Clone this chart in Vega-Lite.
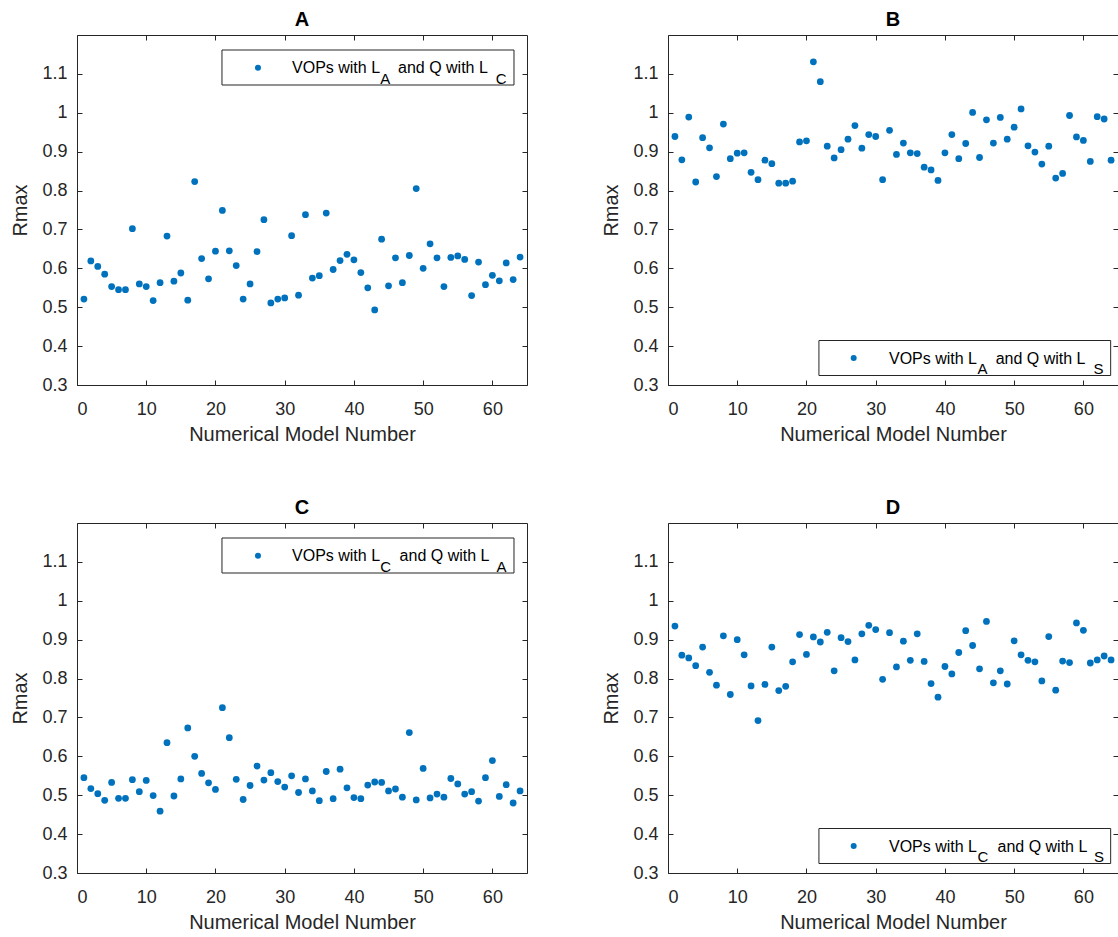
{
  "$schema": "https://vega.github.io/schema/vega-lite/v6.json",
  "background": "white",
  "padding": {"left": 10, "top": 9, "right": 0, "bottom": 0},
  "datasets": {
    "A": [{"n":1,"r":0.521},{"n":2,"r":0.619},{"n":3,"r":0.605},{"n":4,"r":0.585},{"n":5,"r":0.553},{"n":6,"r":0.545},{"n":7,"r":0.545},{"n":8,"r":0.702},{"n":9,"r":0.56},{"n":10,"r":0.553},{"n":11,"r":0.517},{"n":12,"r":0.563},{"n":13,"r":0.683},{"n":14,"r":0.567},{"n":15,"r":0.588},{"n":16,"r":0.518},{"n":17,"r":0.823},{"n":18,"r":0.625},{"n":19,"r":0.573},{"n":20,"r":0.644},{"n":21,"r":0.749},{"n":22,"r":0.645},{"n":23,"r":0.607},{"n":24,"r":0.521},{"n":25,"r":0.56},{"n":26,"r":0.643},{"n":27,"r":0.725},{"n":28,"r":0.511},{"n":29,"r":0.521},{"n":30,"r":0.524},{"n":31,"r":0.684},{"n":32,"r":0.531},{"n":33,"r":0.738},{"n":34,"r":0.575},{"n":35,"r":0.581},{"n":36,"r":0.742},{"n":37,"r":0.597},{"n":38,"r":0.62},{"n":39,"r":0.636},{"n":40,"r":0.622},{"n":41,"r":0.589},{"n":42,"r":0.55},{"n":43,"r":0.493},{"n":44,"r":0.675},{"n":45,"r":0.555},{"n":46,"r":0.627},{"n":47,"r":0.563},{"n":48,"r":0.633},{"n":49,"r":0.805},{"n":50,"r":0.6},{"n":51,"r":0.663},{"n":52,"r":0.627},{"n":53,"r":0.553},{"n":54,"r":0.628},{"n":55,"r":0.632},{"n":56,"r":0.623},{"n":57,"r":0.53},{"n":58,"r":0.616},{"n":59,"r":0.558},{"n":60,"r":0.582},{"n":61,"r":0.568},{"n":62,"r":0.614},{"n":63,"r":0.571},{"n":64,"r":0.629}],
    "B": [{"n":1,"r":0.939},{"n":2,"r":0.879},{"n":3,"r":0.989},{"n":4,"r":0.822},{"n":5,"r":0.936},{"n":6,"r":0.91},{"n":7,"r":0.836},{"n":8,"r":0.971},{"n":9,"r":0.882},{"n":10,"r":0.896},{"n":11,"r":0.897},{"n":12,"r":0.847},{"n":13,"r":0.828},{"n":14,"r":0.878},{"n":15,"r":0.869},{"n":16,"r":0.819},{"n":17,"r":0.819},{"n":18,"r":0.824},{"n":19,"r":0.925},{"n":20,"r":0.928},{"n":21,"r":1.131},{"n":22,"r":1.08},{"n":23,"r":0.914},{"n":24,"r":0.884},{"n":25,"r":0.905},{"n":26,"r":0.932},{"n":27,"r":0.967},{"n":28,"r":0.909},{"n":29,"r":0.944},{"n":30,"r":0.939},{"n":31,"r":0.828},{"n":32,"r":0.955},{"n":33,"r":0.893},{"n":34,"r":0.922},{"n":35,"r":0.897},{"n":36,"r":0.895},{"n":37,"r":0.86},{"n":38,"r":0.853},{"n":39,"r":0.826},{"n":40,"r":0.897},{"n":41,"r":0.944},{"n":42,"r":0.882},{"n":43,"r":0.921},{"n":44,"r":1.001},{"n":45,"r":0.885},{"n":46,"r":0.982},{"n":47,"r":0.922},{"n":48,"r":0.988},{"n":49,"r":0.932},{"n":50,"r":0.963},{"n":51,"r":1.01},{"n":52,"r":0.915},{"n":53,"r":0.899},{"n":54,"r":0.868},{"n":55,"r":0.914},{"n":56,"r":0.832},{"n":57,"r":0.844},{"n":58,"r":0.993},{"n":59,"r":0.938},{"n":60,"r":0.929},{"n":61,"r":0.875},{"n":62,"r":0.99},{"n":63,"r":0.984},{"n":64,"r":0.878}],
    "C": [{"n":1,"r":0.545},{"n":2,"r":0.517},{"n":3,"r":0.504},{"n":4,"r":0.487},{"n":5,"r":0.533},{"n":6,"r":0.492},{"n":7,"r":0.492},{"n":8,"r":0.54},{"n":9,"r":0.509},{"n":10,"r":0.538},{"n":11,"r":0.499},{"n":12,"r":0.459},{"n":13,"r":0.635},{"n":14,"r":0.498},{"n":15,"r":0.542},{"n":16,"r":0.673},{"n":17,"r":0.6},{"n":18,"r":0.556},{"n":19,"r":0.532},{"n":20,"r":0.515},{"n":21,"r":0.725},{"n":22,"r":0.648},{"n":23,"r":0.541},{"n":24,"r":0.489},{"n":25,"r":0.525},{"n":26,"r":0.575},{"n":27,"r":0.539},{"n":28,"r":0.558},{"n":29,"r":0.535},{"n":30,"r":0.521},{"n":31,"r":0.55},{"n":32,"r":0.507},{"n":33,"r":0.542},{"n":34,"r":0.511},{"n":35,"r":0.486},{"n":36,"r":0.561},{"n":37,"r":0.491},{"n":38,"r":0.567},{"n":39,"r":0.519},{"n":40,"r":0.494},{"n":41,"r":0.491},{"n":42,"r":0.526},{"n":43,"r":0.534},{"n":44,"r":0.533},{"n":45,"r":0.511},{"n":46,"r":0.516},{"n":47,"r":0.495},{"n":48,"r":0.661},{"n":49,"r":0.488},{"n":50,"r":0.569},{"n":51,"r":0.493},{"n":52,"r":0.503},{"n":53,"r":0.495},{"n":54,"r":0.543},{"n":55,"r":0.529},{"n":56,"r":0.503},{"n":57,"r":0.509},{"n":58,"r":0.485},{"n":59,"r":0.545},{"n":60,"r":0.589},{"n":61,"r":0.497},{"n":62,"r":0.527},{"n":63,"r":0.48},{"n":64,"r":0.511}],
    "D": [{"n":1,"r":0.935},{"n":2,"r":0.86},{"n":3,"r":0.853},{"n":4,"r":0.833},{"n":5,"r":0.881},{"n":6,"r":0.816},{"n":7,"r":0.783},{"n":8,"r":0.91},{"n":9,"r":0.759},{"n":10,"r":0.9},{"n":11,"r":0.861},{"n":12,"r":0.781},{"n":13,"r":0.692},{"n":14,"r":0.785},{"n":15,"r":0.881},{"n":16,"r":0.769},{"n":17,"r":0.78},{"n":18,"r":0.843},{"n":19,"r":0.913},{"n":20,"r":0.862},{"n":21,"r":0.907},{"n":22,"r":0.894},{"n":23,"r":0.919},{"n":24,"r":0.82},{"n":25,"r":0.905},{"n":26,"r":0.895},{"n":27,"r":0.848},{"n":28,"r":0.915},{"n":29,"r":0.937},{"n":30,"r":0.926},{"n":31,"r":0.798},{"n":32,"r":0.918},{"n":33,"r":0.83},{"n":34,"r":0.896},{"n":35,"r":0.847},{"n":36,"r":0.915},{"n":37,"r":0.844},{"n":38,"r":0.787},{"n":39,"r":0.752},{"n":40,"r":0.831},{"n":41,"r":0.812},{"n":42,"r":0.867},{"n":43,"r":0.923},{"n":44,"r":0.885},{"n":45,"r":0.825},{"n":46,"r":0.947},{"n":47,"r":0.789},{"n":48,"r":0.82},{"n":49,"r":0.786},{"n":50,"r":0.897},{"n":51,"r":0.861},{"n":52,"r":0.847},{"n":53,"r":0.843},{"n":54,"r":0.794},{"n":55,"r":0.908},{"n":56,"r":0.77},{"n":57,"r":0.845},{"n":58,"r":0.841},{"n":59,"r":0.943},{"n":60,"r":0.924},{"n":61,"r":0.84},{"n":62,"r":0.848},{"n":63,"r":0.858},{"n":64,"r":0.848}]
  },
  "columns": 2,
  "bounds": "flush",
  "spacing": {"row": 138, "column": 141},
  "concat": [
    {
      "title": "A",
      "width": 450,
      "height": 350,
      "resolve": {"axis": {"x": "independent", "y": "independent"}},
      "layer": [
        {
          "data": {"name": "A"},
          "mark": {"type": "circle", "size": 46, "color": "#0072BD", "opacity": 1},
          "encoding": {
            "x": {"field": "n", "type": "quantitative", "scale": {"domain": [0, 65]}, "axis": {"orient": "bottom", "values": [0, 10, 20, 30, 40, 50, 60], "title": "Numerical Model Number"}},
            "y": {"field": "r", "type": "quantitative", "scale": {"domain": [0.3, 1.2]}, "axis": {"orient": "left", "values": [0.3, 0.4, 0.5, 0.6, 0.7, 0.8, 0.9, 1, 1.1], "format": "~g", "title": "Rmax"}}
          }
        },
        {
          "data": {"values": [{}]},
          "mark": {"type": "rect", "fill": "white", "stroke": "#262626", "strokeWidth": 1},
          "encoding": {
            "x": {"datum": 20.94, "type": "quantitative", "axis": {"orient": "top", "values": [0, 10, 20, 30, 40, 50, 60], "labels": false, "title": null}},
            "x2": {"datum": 63.12},
            "y": {"datum": 1.1614, "type": "quantitative", "axis": {"orient": "right", "values": [0.3, 0.4, 0.5, 0.6, 0.7, 0.8, 0.9, 1, 1.1], "labels": false, "title": null}},
            "y2": {"datum": 1.0714}
          }
        },
        {
          "data": {"values": [{}]},
          "mark": {"type": "circle", "size": 36, "color": "#0072BD", "opacity": 1},
          "encoding": {"x": {"datum": 26.14, "type": "quantitative", "axis": null}, "y": {"datum": 1.116, "type": "quantitative", "axis": null}}
        },
        {
          "data": {"values": [{}]},
          "mark": {"type": "text", "align": "left", "baseline": "alphabetic", "fontSize": 16, "font": "Liberation Sans", "color": "#000000"},
          "encoding": {"x": {"datum": 31.06, "type": "quantitative", "axis": null}, "y": {"datum": 1.1023, "type": "quantitative", "axis": null}, "text": {"value": "VOPs with L"}}
        },
        {
          "data": {"values": [{}]},
          "mark": {"type": "text", "align": "left", "baseline": "alphabetic", "fontSize": 15, "font": "Liberation Sans", "color": "#000000"},
          "encoding": {"x": {"datum": 43.8, "type": "quantitative", "axis": null}, "y": {"datum": 1.0745, "type": "quantitative", "axis": null}, "text": {"value": "A"}}
        },
        {
          "data": {"values": [{}]},
          "mark": {"type": "text", "align": "left", "baseline": "alphabetic", "fontSize": 16, "font": "Liberation Sans", "color": "#000000"},
          "encoding": {"x": {"datum": 46.37, "type": "quantitative", "axis": null}, "y": {"datum": 1.1023, "type": "quantitative", "axis": null}, "text": {"value": "and Q with L"}}
        },
        {
          "data": {"values": [{}]},
          "mark": {"type": "text", "align": "left", "baseline": "alphabetic", "fontSize": 15, "font": "Liberation Sans", "color": "#000000"},
          "encoding": {"x": {"datum": 60.5, "type": "quantitative", "axis": null}, "y": {"datum": 1.0745, "type": "quantitative", "axis": null}, "text": {"value": "C"}}
        }
      ]
    },
    {
      "title": "B",
      "width": 450,
      "height": 350,
      "resolve": {"axis": {"x": "independent", "y": "independent"}},
      "layer": [
        {
          "data": {"name": "B"},
          "mark": {"type": "circle", "size": 46, "color": "#0072BD", "opacity": 1},
          "encoding": {
            "x": {"field": "n", "type": "quantitative", "scale": {"domain": [0, 65]}, "axis": {"orient": "bottom", "values": [0, 10, 20, 30, 40, 50, 60], "title": "Numerical Model Number"}},
            "y": {"field": "r", "type": "quantitative", "scale": {"domain": [0.3, 1.2]}, "axis": {"orient": "left", "values": [0.3, 0.4, 0.5, 0.6, 0.7, 0.8, 0.9, 1, 1.1], "format": "~g", "title": "Rmax"}}
          }
        },
        {
          "data": {"values": [{}]},
          "mark": {"type": "rect", "fill": "white", "stroke": "#262626", "strokeWidth": 1},
          "encoding": {
            "x": {"datum": 21.8, "type": "quantitative", "axis": {"orient": "top", "values": [0, 10, 20, 30, 40, 50, 60], "labels": false, "title": null}},
            "x2": {"datum": 63.94},
            "y": {"datum": 0.4144, "type": "quantitative", "axis": {"orient": "right", "values": [0.3, 0.4, 0.5, 0.6, 0.7, 0.8, 0.9, 1, 1.1], "labels": false, "title": null}},
            "y2": {"datum": 0.3244}
          }
        },
        {
          "data": {"values": [{}]},
          "mark": {"type": "circle", "size": 36, "color": "#0072BD", "opacity": 1},
          "encoding": {"x": {"datum": 26.82, "type": "quantitative", "axis": null}, "y": {"datum": 0.3694, "type": "quantitative", "axis": null}}
        },
        {
          "data": {"values": [{}]},
          "mark": {"type": "text", "align": "left", "baseline": "alphabetic", "fontSize": 16, "font": "Liberation Sans", "color": "#000000"},
          "encoding": {"x": {"datum": 31.92, "type": "quantitative", "axis": null}, "y": {"datum": 0.355, "type": "quantitative", "axis": null}, "text": {"value": "VOPs with L"}}
        },
        {
          "data": {"values": [{}]},
          "mark": {"type": "text", "align": "left", "baseline": "alphabetic", "fontSize": 15, "font": "Liberation Sans", "color": "#000000"},
          "encoding": {"x": {"datum": 44.7, "type": "quantitative", "axis": null}, "y": {"datum": 0.3275, "type": "quantitative", "axis": null}, "text": {"value": "A"}}
        },
        {
          "data": {"values": [{}]},
          "mark": {"type": "text", "align": "left", "baseline": "alphabetic", "fontSize": 16, "font": "Liberation Sans", "color": "#000000"},
          "encoding": {"x": {"datum": 47.33, "type": "quantitative", "axis": null}, "y": {"datum": 0.355, "type": "quantitative", "axis": null}, "text": {"value": "and Q with L"}}
        },
        {
          "data": {"values": [{}]},
          "mark": {"type": "text", "align": "left", "baseline": "alphabetic", "fontSize": 15, "font": "Liberation Sans", "color": "#000000"},
          "encoding": {"x": {"datum": 61.45, "type": "quantitative", "axis": null}, "y": {"datum": 0.3275, "type": "quantitative", "axis": null}, "text": {"value": "S"}}
        }
      ]
    },
    {
      "title": "C",
      "width": 450,
      "height": 350,
      "resolve": {"axis": {"x": "independent", "y": "independent"}},
      "layer": [
        {
          "data": {"name": "C"},
          "mark": {"type": "circle", "size": 46, "color": "#0072BD", "opacity": 1},
          "encoding": {
            "x": {"field": "n", "type": "quantitative", "scale": {"domain": [0, 65]}, "axis": {"orient": "bottom", "values": [0, 10, 20, 30, 40, 50, 60], "title": "Numerical Model Number"}},
            "y": {"field": "r", "type": "quantitative", "scale": {"domain": [0.3, 1.2]}, "axis": {"orient": "left", "values": [0.3, 0.4, 0.5, 0.6, 0.7, 0.8, 0.9, 1, 1.1], "format": "~g", "title": "Rmax"}}
          }
        },
        {
          "data": {"values": [{}]},
          "mark": {"type": "rect", "fill": "white", "stroke": "#262626", "strokeWidth": 1},
          "encoding": {
            "x": {"datum": 20.94, "type": "quantitative", "axis": {"orient": "top", "values": [0, 10, 20, 30, 40, 50, 60], "labels": false, "title": null}},
            "x2": {"datum": 63.12},
            "y": {"datum": 1.1614, "type": "quantitative", "axis": {"orient": "right", "values": [0.3, 0.4, 0.5, 0.6, 0.7, 0.8, 0.9, 1, 1.1], "labels": false, "title": null}},
            "y2": {"datum": 1.0714}
          }
        },
        {
          "data": {"values": [{}]},
          "mark": {"type": "circle", "size": 36, "color": "#0072BD", "opacity": 1},
          "encoding": {"x": {"datum": 26.14, "type": "quantitative", "axis": null}, "y": {"datum": 1.116, "type": "quantitative", "axis": null}}
        },
        {
          "data": {"values": [{}]},
          "mark": {"type": "text", "align": "left", "baseline": "alphabetic", "fontSize": 16, "font": "Liberation Sans", "color": "#000000"},
          "encoding": {"x": {"datum": 31.06, "type": "quantitative", "axis": null}, "y": {"datum": 1.1023, "type": "quantitative", "axis": null}, "text": {"value": "VOPs with L"}}
        },
        {
          "data": {"values": [{}]},
          "mark": {"type": "text", "align": "left", "baseline": "alphabetic", "fontSize": 15, "font": "Liberation Sans", "color": "#000000"},
          "encoding": {"x": {"datum": 43.8, "type": "quantitative", "axis": null}, "y": {"datum": 1.0745, "type": "quantitative", "axis": null}, "text": {"value": "C"}}
        },
        {
          "data": {"values": [{}]},
          "mark": {"type": "text", "align": "left", "baseline": "alphabetic", "fontSize": 16, "font": "Liberation Sans", "color": "#000000"},
          "encoding": {"x": {"datum": 46.6, "type": "quantitative", "axis": null}, "y": {"datum": 1.1023, "type": "quantitative", "axis": null}, "text": {"value": "and Q with L"}}
        },
        {
          "data": {"values": [{}]},
          "mark": {"type": "text", "align": "left", "baseline": "alphabetic", "fontSize": 15, "font": "Liberation Sans", "color": "#000000"},
          "encoding": {"x": {"datum": 60.6, "type": "quantitative", "axis": null}, "y": {"datum": 1.0745, "type": "quantitative", "axis": null}, "text": {"value": "A"}}
        }
      ]
    },
    {
      "title": "D",
      "width": 450,
      "height": 350,
      "resolve": {"axis": {"x": "independent", "y": "independent"}},
      "layer": [
        {
          "data": {"name": "D"},
          "mark": {"type": "circle", "size": 46, "color": "#0072BD", "opacity": 1},
          "encoding": {
            "x": {"field": "n", "type": "quantitative", "scale": {"domain": [0, 65]}, "axis": {"orient": "bottom", "values": [0, 10, 20, 30, 40, 50, 60], "title": "Numerical Model Number"}},
            "y": {"field": "r", "type": "quantitative", "scale": {"domain": [0.3, 1.2]}, "axis": {"orient": "left", "values": [0.3, 0.4, 0.5, 0.6, 0.7, 0.8, 0.9, 1, 1.1], "format": "~g", "title": "Rmax"}}
          }
        },
        {
          "data": {"values": [{}]},
          "mark": {"type": "rect", "fill": "white", "stroke": "#262626", "strokeWidth": 1},
          "encoding": {
            "x": {"datum": 21.8, "type": "quantitative", "axis": {"orient": "top", "values": [0, 10, 20, 30, 40, 50, 60], "labels": false, "title": null}},
            "x2": {"datum": 63.94},
            "y": {"datum": 0.4144, "type": "quantitative", "axis": {"orient": "right", "values": [0.3, 0.4, 0.5, 0.6, 0.7, 0.8, 0.9, 1, 1.1], "labels": false, "title": null}},
            "y2": {"datum": 0.3244}
          }
        },
        {
          "data": {"values": [{}]},
          "mark": {"type": "circle", "size": 36, "color": "#0072BD", "opacity": 1},
          "encoding": {"x": {"datum": 26.82, "type": "quantitative", "axis": null}, "y": {"datum": 0.3694, "type": "quantitative", "axis": null}}
        },
        {
          "data": {"values": [{}]},
          "mark": {"type": "text", "align": "left", "baseline": "alphabetic", "fontSize": 16, "font": "Liberation Sans", "color": "#000000"},
          "encoding": {"x": {"datum": 31.92, "type": "quantitative", "axis": null}, "y": {"datum": 0.355, "type": "quantitative", "axis": null}, "text": {"value": "VOPs with L"}}
        },
        {
          "data": {"values": [{}]},
          "mark": {"type": "text", "align": "left", "baseline": "alphabetic", "fontSize": 15, "font": "Liberation Sans", "color": "#000000"},
          "encoding": {"x": {"datum": 44.7, "type": "quantitative", "axis": null}, "y": {"datum": 0.3275, "type": "quantitative", "axis": null}, "text": {"value": "C"}}
        },
        {
          "data": {"values": [{}]},
          "mark": {"type": "text", "align": "left", "baseline": "alphabetic", "fontSize": 16, "font": "Liberation Sans", "color": "#000000"},
          "encoding": {"x": {"datum": 47.6, "type": "quantitative", "axis": null}, "y": {"datum": 0.355, "type": "quantitative", "axis": null}, "text": {"value": "and Q with L"}}
        },
        {
          "data": {"values": [{}]},
          "mark": {"type": "text", "align": "left", "baseline": "alphabetic", "fontSize": 15, "font": "Liberation Sans", "color": "#000000"},
          "encoding": {"x": {"datum": 61.55, "type": "quantitative", "axis": null}, "y": {"datum": 0.3275, "type": "quantitative", "axis": null}, "text": {"value": "S"}}
        }
      ]
    }
  ],
  "config": {
    "view": {"stroke": null},
    "font": "Liberation Sans",
    "title": {"font": "Liberation Sans", "fontSize": 20, "fontWeight": "bold", "color": "#000000", "anchor": "middle", "frame": "group", "baseline": "alphabetic", "offset": 5},
    "axis": {
      "grid": false,
      "domainColor": "#262626",
      "domainWidth": 1,
      "tickColor": "#262626",
      "tickWidth": 1,
      "tickSize": -5,
      "labelFont": "Liberation Sans",
      "labelFontSize": 18,
      "labelColor": "#262626",
      "titleFont": "Liberation Sans",
      "titleFontSize": 20,
      "titleFontWeight": "normal",
      "titleColor": "#262626"
    },
    "axisBottom": {"labelPadding": 20, "titlePadding": 6},
    "axisLeft": {"labelPadding": 15, "titlePadding": 11},
    "axisTop": {"labelPadding": 0},
    "axisRight": {"labelPadding": 0}
  }
}
